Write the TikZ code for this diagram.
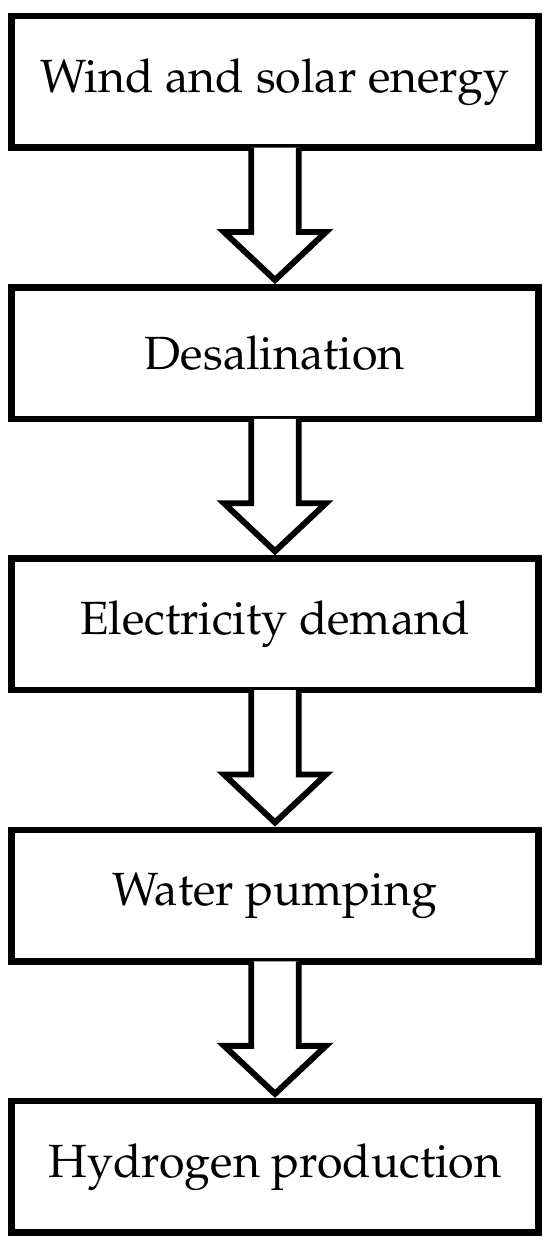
\documentclass[tikz,border=0pt]{standalone}
\usepackage[T1]{fontenc}
\usepackage{mathpazo}
\usetikzlibrary{positioning,calc}

\begin{document}
\begin{tikzpicture}[
  node distance=2.795cm,
  stage/.style={rectangle, draw=black, line width=3.7pt, fill=white,
                minimum width=10.53cm, minimum height=2.63cm,
                inner sep=0pt, outer sep=0pt,
                font=\fontsize{26.5}{30}\selectfont},
  flow/.style={draw=black, line width=3.4pt, fill=white, line join=miter},
]
  \useasboundingbox (0,0) rectangle (11,-24.88);

  \node[stage] (wind) at (5.5,-1.635) {Wind and solar energy};
  \node[stage, below=of wind] (desal) {Desalination};
  \node[stage, below=of desal] (elec) {Electricity demand};
  \node[stage, below=of elec] (pump) {Water pumping};
  \node[stage, below=of pump] (hydro) {Hydrogen production};

  % hollow block arrows between stages
  \foreach \a/\b in {wind/desal, desal/elec, elec/pump, pump/hydro}
    \draw[flow] ($(\a.south)+(-0.475,0)$) -- ++(0,-1.69) -- ++(-0.545,0)
      -- ($(\b.north)+(0,0.145)$)
      -- ($(\a.south)+(1.02,-1.69)$) -- ++(-0.545,0) -- ($(\a.south)+(0.475,0)$);
\end{tikzpicture}
\end{document}
